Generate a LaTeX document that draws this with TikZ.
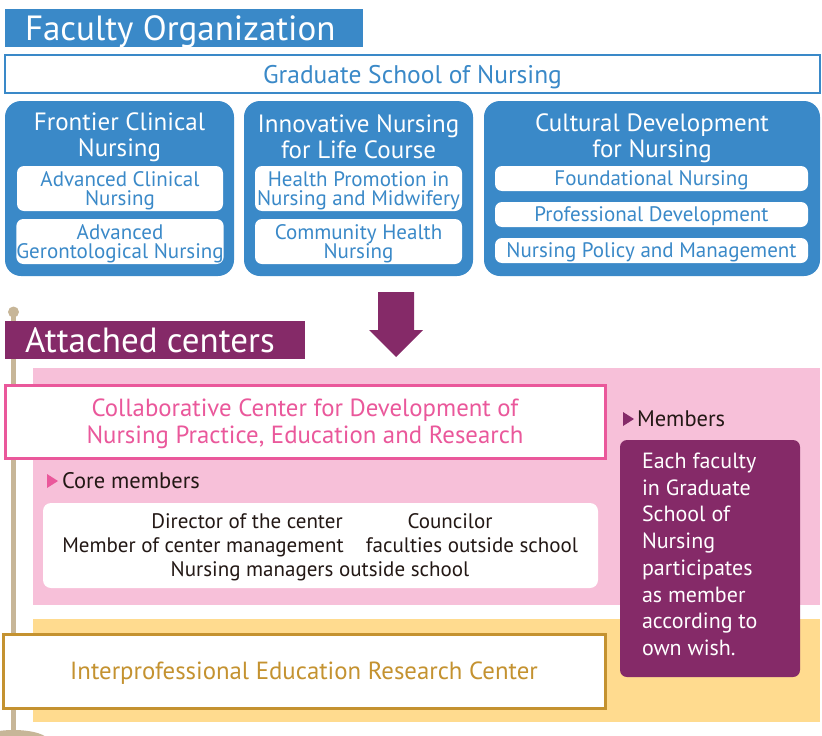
\documentclass[tikz,border=0pt]{standalone}
\usepackage{fontspec}
\setmainfont{PT Sans}
\usetikzlibrary{positioning}
\definecolor{facblue}{RGB}{58,137,200}
\definecolor{attpurple}{RGB}{133,42,104}
\definecolor{pinkbg}{RGB}{247,192,217}
\definecolor{pinkline}{RGB}{234,88,155}
\definecolor{yellowbg}{RGB}{255,219,143}
\definecolor{goldline}{RGB}{196,146,48}
\definecolor{polecol}{RGB}{199,182,152}
\definecolor{inkblack}{RGB}{35,24,21}
\newcommand\fsz[2]{\fontsize{#1}{#2}\selectfont}

\begin{document}
\begin{tikzpicture}[x=1pt, y=-1pt,
  every node/.style={inner sep=0pt, outer sep=0pt, align=center},
  bar/.style={anchor=north west, minimum height=38pt},
  bartext/.style={anchor=west, text=white, text depth=0pt, font=\fsz{35}{40}},
  dept/.style={anchor=north west, fill=facblue, rounded corners=16pt, minimum height=175pt},
  depttitle/.style={text=white, font=\fsz{25}{26}},
  unit/.style={anchor=north west, fill=white, rounded corners=7pt, text=facblue, text depth=0pt, font=\fsz{21}{19.5}},
  center/.style={anchor=north west, fill=white, line width=3pt, text depth=0pt, font=\fsz{24.8}{27}},
  member/.style={text=inkblack, text height=0.75em, text depth=0.25em, font=\fsz{21}{23}},
  bullet/.style={text=inkblack, font=\fsz{22.5}{24}}]
  \useasboundingbox (0,0) rectangle (822,736);

  % faculty organization
  \node[bar, fill=facblue, minimum width=358pt] (facbar) at (5,9) {};
  \node[bartext, right=20pt of facbar.west] (factitle) {Faculty Organization};
  \node[anchor=north west, draw=facblue, line width=2pt, fill=white, minimum width=815pt, minimum height=38pt,
        text=facblue, text depth=0pt, font=\fsz{25.5}{28}] (gsn) at (5,55) {Graduate School of Nursing};

  \node[dept, minimum width=229pt] (fcn) at (5,101) {};
  \node[dept, minimum width=229pt] (inl) at (244,101) {};
  \node[dept, minimum width=336pt] (cdn) at (484,101) {};
  \node[depttitle] (fcnt) at (119.5,137) {Frontier Clinical\\Nursing};
  \node[depttitle] (inlt) at (358.5,137) {Innovative Nursing\\for Life Course};
  \node[depttitle] (cdnt) at (652,138) {Cultural Development\\for Nursing};

  \node[unit, minimum width=206pt, minimum height=45pt] (acn) at (17,166) {Advanced Clinical\\Nursing};
  \node[unit, minimum width=206pt, minimum height=45pt, below=8pt of acn] (agn) {Advanced\\Gerontological Nursing};
  \node[unit, minimum width=207pt, minimum height=45pt] (hpn) at (255,166) {Health Promotion in\\Nursing and Midwifery};
  \node[unit, minimum width=207pt, minimum height=45pt, below=8pt of hpn] (chn) {Community Health\\Nursing};
  \node[unit, minimum width=313pt, minimum height=25pt] (fnd) at (495,166) {Foundational Nursing};
  \node[unit, minimum width=313pt, minimum height=25pt, below=11pt of fnd] (prd) {Professional Development};
  \node[unit, minimum width=313pt, minimum height=25pt, below=11pt of prd] (npm) {Nursing Policy and Management};

  % arrow down
  \fill[attpurple] (378,292) -- (414,292) -- (414,330) -- (423,330) -- (396,357) -- (369,330) -- (378,330) -- cycle;

  % pole
  \draw[polecol, line width=5pt] (13.5,312) -- (13.5,736);
  \fill[polecol] (13.5,312) circle (5.5pt);
  \fill[polecol] (13.5,741) ellipse (35pt and 11pt);

  % attached centers
  \node[bar, fill=attpurple, minimum width=300pt] (attbar) at (5,321) {};
  \node[bartext, right=20pt of attbar.west] (atttitle) {Attached centers};

  \node[anchor=north west, fill=pinkbg, minimum width=787pt, minimum height=237pt] (pinkarea) at (33,368) {};
  \node[anchor=north west, fill=yellowbg, minimum width=787pt, minimum height=103pt] (yellowarea) at (33,619) {};

  \node[center, draw=pinkline, text=pinkline, minimum width=600pt, minimum height=73pt] (ccd) at (5,385)
    {Collaborative Center for Development of\\Nursing Practice, Education and Research};

  \node[bullet, anchor=west] (corelbl) at (62,481) {Core members};
  \fill[pinkline] ([xshift=-4pt]corelbl.west) -- ++(-11,-7) -- ++(0,14) -- cycle;
  \node[anchor=north west, fill=white, rounded corners=8pt, minimum width=555pt, minimum height=85pt] (corebox) at (43,503) {};
  \node[member] (dir) at (247,526) {Director of the center};
  \node[member] (cou) at (450,526) {Councilor};
  \node[member] (mcm) at (203,550) {Member of center management};
  \node[member] (fos) at (472,550) {faculties outside school};
  \node[member] (nmo) at (320,574) {Nursing managers outside school};

  \node[bullet, anchor=west] (memlbl) at (637,419) {Members};
  \fill[attpurple] ([xshift=-3pt]memlbl.west) -- ++(-11,-7) -- ++(0,14) -- cycle;
  \node[anchor=north west, fill=attpurple, rounded corners=7pt, minimum width=180pt, minimum height=237pt] (membox) at (620,440) {};
  \node[anchor=north west, align=left, text=white, font=\fsz{22}{26.7}] (memtext) at (642,453)
    {Each faculty\\in Graduate\\School of\\Nursing\\participates\\as member\\according to\\own wish.};

  \node[center, draw=goldline, text=goldline, minimum width=602pt, minimum height=74pt] (ierc) at (3,634)
    {Interprofessional Education Research Center};
\end{tikzpicture}
\end{document}
